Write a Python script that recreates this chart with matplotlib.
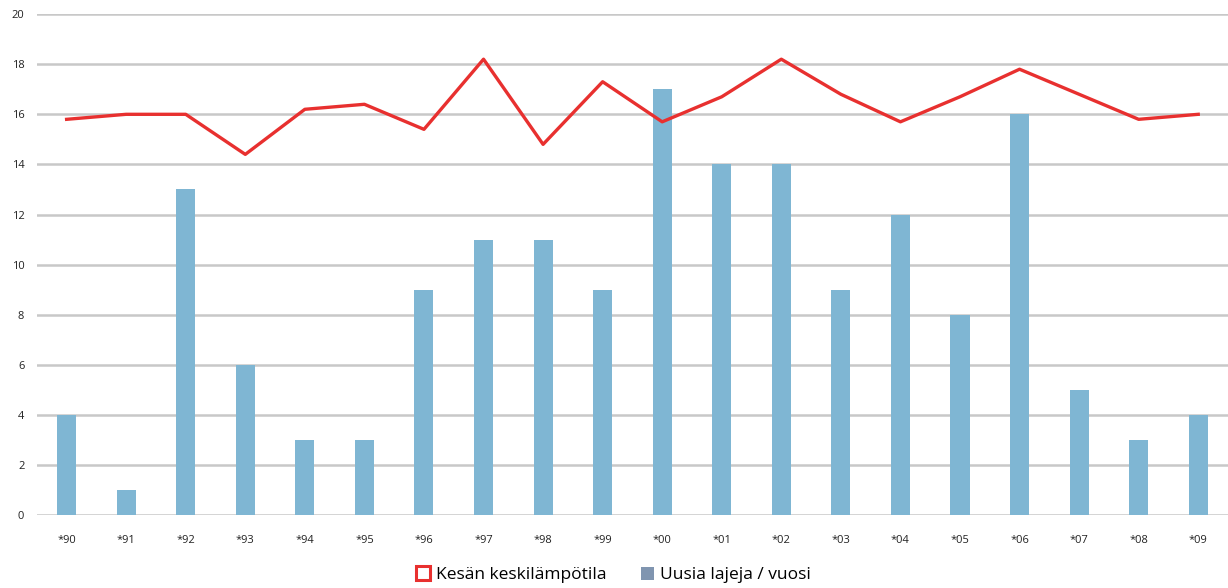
import matplotlib
matplotlib.use("Agg")
import matplotlib.pyplot as plt
from matplotlib.lines import Line2D
from matplotlib.patches import Patch
import numpy as np

years = ["*90", "*91", "*92", "*93", "*94", "*95", "*96", "*97", "*98", "*99",
         "*00", "*01", "*02", "*03", "*04", "*05", "*06", "*07", "*08", "*09"]
new_species = [4, 1, 13, 6, 3, 3, 9, 11, 11, 9, 17, 14, 14, 9, 12, 8, 16, 5, 3, 4]
summer_temp = [15.8, 16.0, 16.0, 14.4, 16.2, 16.4, 15.4, 18.2, 14.8, 17.3,
               15.7, 16.7, 18.2, 16.8, 15.7, 16.7, 17.8, 16.8, 15.8, 16.0]

BAR_COLOR = "#7fb6d3"
LEGEND_BAR_COLOR = "#8095b0"
LINE_COLOR = "#e8302f"
GRID_COLOR = "#c8c8c8"

plt.rcParams["font.family"] = ["Open Sans", "DejaVu Sans"]

fig = plt.figure(figsize=(12.28, 5.88), dpi=100)
ax = fig.add_axes([0.030, 0.124, 0.970, 0.852])

x = np.arange(len(years))
ax.bar(x, new_species, width=0.32, color=BAR_COLOR, zorder=2)
ax.plot(x, summer_temp, color=LINE_COLOR, linewidth=2.4, zorder=3)

ax.set_xlim(-0.5, len(years) - 0.5)
ax.set_ylim(0, 20)
ax.set_yticks(range(0, 21, 2))
ax.set_xticks(x)
ax.set_xticklabels(years)
ax.tick_params(axis="both", length=0, labelsize=8, colors="#222222")
ax.tick_params(axis="x", pad=14)
ax.tick_params(axis="y", pad=9)
ax.yaxis.grid(True, color=GRID_COLOR, linewidth=1.8, zorder=0)
ax.set_axisbelow(True)
for spine in ax.spines.values():
    spine.set_visible(False)

handles = [
    Line2D([], [], linestyle="none", marker="s", markersize=10,
           markerfacecolor="white", markeredgecolor=LINE_COLOR, markeredgewidth=2.2),
    Patch(facecolor=LEGEND_BAR_COLOR, edgecolor="none"),
]
fig.legend(handles, ["Kesän keskilämpötila", "Uusia lajeja / vuosi"],
           loc="center", bbox_to_anchor=(0.5, 0.022), ncol=2, frameon=False,
           fontsize=12.5, handlelength=0.75, handleheight=0.75, handletextpad=0.35,
           columnspacing=2.0)

fig.savefig("out.png", dpi=100)
